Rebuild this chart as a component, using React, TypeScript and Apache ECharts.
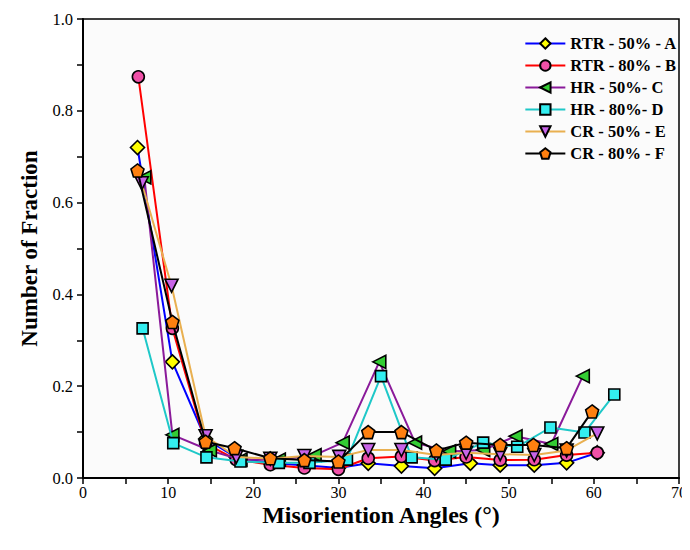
import React, { useEffect, useRef } from "react";
import * as echarts from "echarts";

const seriesNames = ["RTR - 50% - A", "RTR - 80% - B", "HR - 50%- C", "HR - 80%- D", "CR - 50% - E", "CR - 80% - F"];

const xA = [6.4, 10.5, 14.4, 18, 22, 26, 30, 33.5, 37.4, 41.3, 45.5, 49, 53, 56.8, 60.4];
const yA = [0.72, 0.253, 0.085, 0.045, 0.032, 0.028, 0.022, 0.032, 0.026, 0.021, 0.032, 0.028, 0.028, 0.033, 0.055];

const xB = [6.5, 10.5, 14.4, 18, 22, 26, 30, 33.5, 37.4, 41.3, 45, 49, 53, 56.8, 60.4];
const yB = [0.874, 0.326, 0.075, 0.04, 0.029, 0.022, 0.019, 0.043, 0.047, 0.038, 0.046, 0.039, 0.04, 0.05, 0.055];

const xC = [7.2, 10.5, 14.9, 18.5, 23, 27.2, 30.5, 34.8, 39, 43, 47, 50.8, 55, 58.7];
const yC = [0.655, 0.094, 0.06, 0.04, 0.04, 0.05, 0.077, 0.253, 0.077, 0.058, 0.061, 0.091, 0.074, 0.222];

const xD = [7, 10.6, 14.5, 18.5, 23, 26.6, 31, 35, 38.6, 42.6, 47, 51, 54.9, 58.9, 62.4];
const yD = [0.326, 0.076, 0.045, 0.036, 0.033, 0.033, 0.04, 0.222, 0.045, 0.04, 0.077, 0.068, 0.11, 0.099, 0.182];

const xE = [6.9, 10.4, 14.4, 18, 22, 26, 30.1, 33.5, 37.4, 41.5, 45, 49, 53, 56.8, 60.4];
const yE = [0.642, 0.419, 0.091, 0.046, 0.042, 0.048, 0.046, 0.061, 0.061, 0.05, 0.055, 0.052, 0.05, 0.06, 0.097];

const xF = [6.4, 10.5, 14.4, 17.8, 22, 26, 30, 33.5, 37.4, 41.5, 45, 49, 52.9, 56.8, 59.8];
const yF = [0.67, 0.34, 0.079, 0.065, 0.043, 0.039, 0.036, 0.1, 0.1, 0.06, 0.077, 0.072, 0.072, 0.065, 0.145];

const xs = [xA, xB, xC, xD, xE, xF];
const ys = [yA, yB, yC, yD, yE, yF];

const lineColors = ["#0000ff", "#ff0000", "#8a1a9a", "#1ec8c8", "#e9b050", "#000000"];
const fillColors = ["#ffff00", "#f050a8", "#33cc33", "#33eef0", "#c864e8", "#ff8010"];
const symbols = [
  "diamond",
  "circle",
  "path://M0,5 L10,0 L10,10 Z",
  "rect",
  "path://M0,0 L10,0 L5,9 Z",
  "path://M0,-10 L9.51,-3.09 L5.88,8.09 L-5.88,8.09 L-9.51,-3.09 Z",
];
const symbolSizes = [14, 12, 13, 11, 13, 13];

export default function App() {
  const ref = useRef<HTMLDivElement>(null);
  useEffect(() => {
    if (!ref.current) return;
    const chart = echarts.init(ref.current, null, { renderer: "svg" });
    const serif = "Liberation Serif";
    const series = seriesNames.map((name, i) => ({
      name,
      type: "line",
      data: xs[i].map((x, j) => [x, ys[i][j]]),
      symbol: symbols[i],
      symbolSize: symbolSizes[i],
      lineStyle: { color: lineColors[i], width: 2 },
      itemStyle: { color: fillColors[i], borderColor: "#000", borderWidth: 1.6 },
      z: 2 + i,
    }));
    chart.setOption({
      animation: false,
      backgroundColor: "#ffffff",
      grid: {
        left: 83,
        right: 6,
        top: 19,
        bottom: 72,
        show: true,
        borderColor: "#000",
        borderWidth: 1.5,
        backgroundColor: "#fbfbfb",
      },
      legend: {
        orient: "vertical",
        right: 8,
        top: 30,
        itemWidth: 40,
        itemHeight: 13,
        itemGap: 5,
        textStyle: { fontFamily: serif, fontWeight: "bold", fontSize: 16.5, color: "#000" },
        data: seriesNames,
      },
      xAxis: {
        type: "value",
        min: 0,
        max: 70,
        interval: 10,
        name: "Misoriention Angles (°)",
        nameLocation: "middle",
        nameGap: 25,
        nameMoveOverlap: false,
        nameTextStyle: { fontFamily: serif, fontWeight: "bold", fontSize: 24, color: "#000" },
        axisLine: { show: true, onZero: false, lineStyle: { color: "#000", width: 2 } },
        axisTick: { show: true, length: 6, lineStyle: { color: "#000", width: 1.5 } },
        minorTick: { show: true, splitNumber: 2, length: 6, lineStyle: { color: "#000", width: 1.5 } },
        axisLabel: { fontFamily: serif, fontSize: 16, color: "#000", margin: 6 },
        splitLine: { show: false },
      },
      yAxis: {
        type: "value",
        min: 0,
        max: 1,
        interval: 0.2,
        name: "Number of Fraction",
        nameLocation: "middle",
        nameGap: 42,
        nameMoveOverlap: false,
        nameTextStyle: { fontFamily: serif, fontWeight: "bold", fontSize: 23, color: "#000" },
        axisLine: { show: true, onZero: false, lineStyle: { color: "#000", width: 2 } },
        axisTick: { show: true, length: 6, lineStyle: { color: "#000", width: 1.5 } },
        minorTick: { show: true, splitNumber: 2, length: 6, lineStyle: { color: "#000", width: 1.5 } },
        axisLabel: { fontFamily: serif, fontSize: 16.5, color: "#000", margin: 10, formatter: (v: number) => v.toFixed(1) },
        splitLine: { show: false },
      },
      series,
    });
    return () => chart.dispose();
  }, []);
  return <div ref={ref} style={{ width: 690, height: 550, margin: -8 }} />;
}
